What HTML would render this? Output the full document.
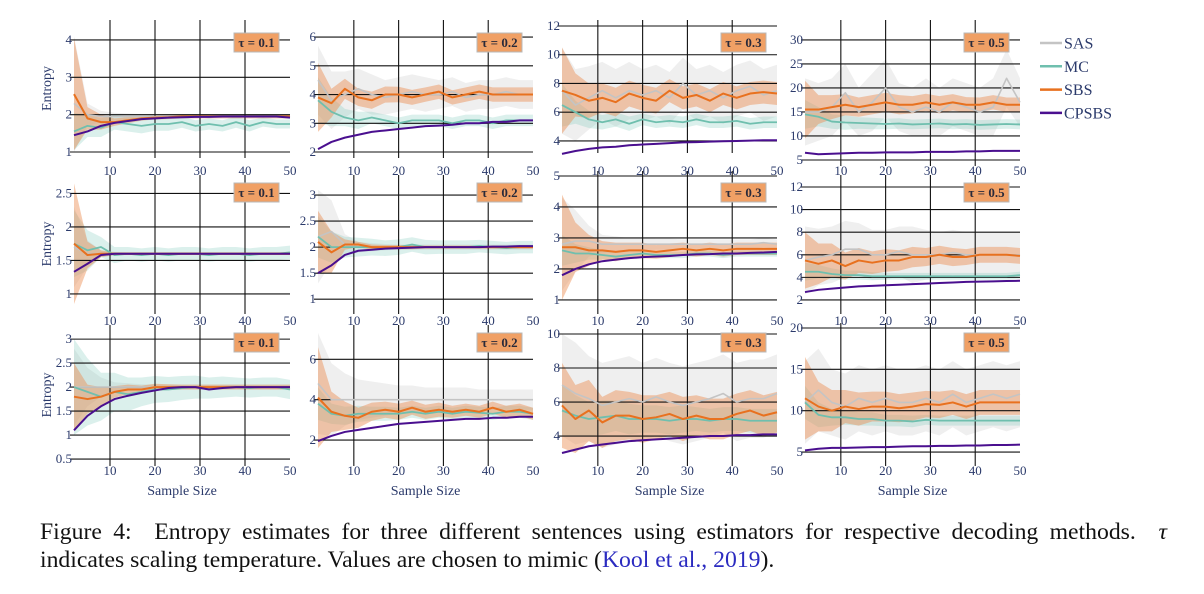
<!DOCTYPE html>
<html><head><meta charset="utf-8"><style>
body{margin:0;width:1204px;height:594px;background:#fff;overflow:hidden;font-family:"Liberation Serif",serif}
#cap{position:absolute;left:40px;top:518px;width:1127px;font-size:23.7px;color:#111;line-height:28px}
#cap .l1{text-align:justify;text-align-last:justify;white-space:normal}
#cap .l2{white-space:nowrap}
a{color:#2b2bc0;text-decoration:none}
</style></head><body>
<svg id="fig" width="1204" height="510" style="position:absolute;left:0;top:0" font-family="Liberation Serif, serif"></svg>
<div id="cap">
<div class="l1">Figure 4:&nbsp; Entropy estimates for three different sentences using estimators for respective decoding methods.&nbsp; <i>τ</i></div>
<div class="l2">indicates scaling temperature. Values are chosen to mimic (<a>Kool et al., 2019</a>).</div>
</div>
<script>
const xs=[2,5,8,11,14,17,20,23,26,29,32,35,38,41,44,47,50];
const xTicks=[10,20,30,40,50];
const taus=["0.1","0.2","0.3","0.5"];
const yTicks=[[1,2,3,4],[2,3,4,5,6],[4,6,8,10,12],[5,10,15,20,25,30],
[1,1.5,2,2.5],[1,1.5,2,2.5,3],[1,2,3,4,5],[2,4,6,8,10,12],
[0.5,1,1.5,2,2.5,3],[2,4,6],[4,6,8,10],[5,10,15,20]];
const yDomains=[[1,4.4],[2,6.42],[3.58,12.07],[5,33.1],[0.79,2.7],[0.83,3.29],[0.74,5],[1.29,12.62],[0.48,3.19],[1.01,7.45],[2.59,10],[4.04,20]];
const meanSAS=[
[2.3,2.0,1.95,1.95,1.95,1.95,1.95,1.95,1.95,1.95,1.95,1.95,1.95,1.95,1.95,1.95,1.95],
[4.5,3.8,4.0,4.2,4.0,3.9,4.0,4.1,4.0,4.0,4.1,3.9,4.0,4.0,4.1,4.0,4.0],
[7.5,6.5,7.0,7.5,7.0,7.5,7.2,7.5,7.0,8.0,7.2,7.5,7.0,7.5,7.8,7.2,7.5],
[15,15,16,19,15,17,20,16,15,16,15,17,16,15,16,22,17],
[1.7,1.6,1.6,1.6,1.6,1.6,1.6,1.6,1.6,1.6,1.6,1.6,1.6,1.6,1.6,1.6,1.6],
[2.2,2.3,2.05,2.0,2.0,2.0,2.0,2.0,2.0,2.0,2.0,2.0,2.0,2.0,2.0,2.0,2.0],
[2.8,2.9,2.9,2.8,2.8,2.8,2.8,2.8,2.8,2.8,2.8,2.8,2.8,2.8,2.8,2.85,2.8],
[5.5,5.8,6,6.5,6.5,6,6,6.3,6,6,6,6.2,6,6,6,6,6],
[2.0,2.0,2.0,2.0,2.0,2.0,2.0,2.0,2.0,2.0,2.0,2.0,2.0,2.0,2.0,2.0,2.0],
[4.8,4.0,4.0,4.0,4.0,4.0,4.0,4.0,4.0,4.0,4.0,4.0,4.0,4.0,4.0,4.0,4.0],
[7,6.5,6.2,5.8,6,6.2,6,6.3,6,5.8,6,6.2,6.5,6,6.2,6.2,6.5],
[11,12.5,11,10.5,11.5,11,11.5,11,11,11.5,11,12,11,11.5,12,11.5,12]];
const bandSAS=[
[1.8,0.3,0.15,0.1,0.08,0.06,0.05,0.05,0.05,0.05,0.05,0.05,0.05,0.05,0.05,0.05,0.05],
[1.2,1.0,0.8,0.7,0.7,0.6,0.6,0.6,0.6,0.5,0.5,0.5,0.5,0.5,0.5,0.5,0.5],
[3,2.5,2.2,2.0,2,2,1.8,1.8,1.8,1.8,1.8,1.8,1.8,1.8,1.8,1.8,1.8],
[7,6,6,6,5,6,6,5,5,6,5,5,5,5,6,6,5],
[0.6,0.2,0.05,0.03,0.02,0.02,0.02,0.02,0.02,0.02,0.02,0.02,0.02,0.02,0.02,0.02,0.02],
[0.9,0.6,0.2,0.1,0.08,0.06,0.05,0.05,0.05,0.05,0.05,0.05,0.05,0.05,0.05,0.05,0.05],
[1.5,1,0.5,0.3,0.25,0.2,0.2,0.18,0.18,0.15,0.15,0.15,0.15,0.15,0.15,0.15,0.15],
[3,2.5,2.5,2.5,2.3,2.2,2.2,2.2,2.5,2.2,2,2,2,2,2,2,2],
[0.8,0.4,0.2,0.1,0.08,0.06,0.05,0.05,0.05,0.05,0.05,0.05,0.05,0.05,0.05,0.05,0.05],
[2.5,1.8,1.3,1.0,0.9,0.8,0.7,0.7,0.6,0.6,0.6,0.6,0.5,0.5,0.5,0.5,0.5],
[3,3,2.5,2.5,2.5,2.5,2.3,2.3,2.3,2.3,2.3,2.3,2.3,2.3,2.3,2.3,2.3],
[5,5,4,4,4,4,4,4,4,4,4,4,4,4,4,4,4]];
const meanMC=[
[1.55,1.7,1.65,1.8,1.75,1.7,1.75,1.75,1.8,1.7,1.75,1.7,1.8,1.7,1.8,1.75,1.75],
[3.8,3.4,3.2,3.1,3.2,3.1,3.0,3.1,3.1,3.1,3.0,3.1,3.1,3.0,3.1,3.1,3.1],
[6.5,6.0,5.5,5.3,5.5,5.2,5.5,5.3,5.4,5.3,5.5,5.3,5.3,5.4,5.2,5.3,5.3],
[14.5,14,13,12.8,12.7,12.6,12.5,12.6,12.4,12.5,12.6,12.4,12.5,12.3,12.4,12.5,12.4],
[1.75,1.65,1.7,1.58,1.6,1.58,1.6,1.58,1.6,1.6,1.58,1.6,1.6,1.58,1.6,1.6,1.62],
[2.2,2.0,2.0,2.0,2.0,1.98,2.0,2.05,2.0,2.0,2.0,2.0,2.02,2.0,1.98,2.0,2.0],
[2.6,2.5,2.5,2.45,2.4,2.45,2.5,2.45,2.45,2.45,2.5,2.5,2.45,2.5,2.5,2.5,2.5],
[4.5,4.5,4.3,4.2,4.2,4.1,4.1,4.1,4.1,4.1,4.1,4.1,4.1,4.1,4.1,4.1,4.2],
[2.0,1.9,1.8,1.9,1.85,1.9,1.95,1.95,1.98,2.0,1.98,2.0,2.0,1.98,2.0,2.0,1.95],
[3.8,3.3,3.2,3.3,3.3,3.3,3.3,3.4,3.3,3.4,3.3,3.4,3.35,3.3,3.4,3.4,3.3],
[5.5,5.2,5.0,5.1,5.2,5.0,5.0,5.0,4.9,5.0,5.0,4.9,5.0,5.0,4.9,4.9,4.9],
[11,9.5,9.2,9.2,9.0,9.0,8.8,8.8,8.7,8.9,8.8,8.8,8.8,8.8,8.8,8.8,8.8]];
const bandMC=[
[0.5,0.3,0.25,0.2,0.2,0.2,0.18,0.18,0.15,0.15,0.15,0.15,0.15,0.15,0.12,0.12,0.12],
[0.8,0.5,0.3,0.3,0.2,0.2,0.2,0.2,0.2,0.2,0.2,0.2,0.2,0.2,0.2,0.2,0.2],
[1.5,0.8,0.6,0.5,0.5,0.5,0.4,0.4,0.4,0.4,0.4,0.4,0.4,0.4,0.4,0.4,0.4],
[3,2,1.5,1.5,1.2,1.2,1.1,1.1,1,1,1,1,1,1,1,1,1],
[0.5,0.3,0.15,0.12,0.1,0.1,0.1,0.1,0.1,0.1,0.1,0.1,0.1,0.1,0.1,0.1,0.1],
[0.4,0.3,0.2,0.18,0.16,0.15,0.15,0.14,0.14,0.13,0.13,0.13,0.12,0.12,0.12,0.12,0.12],
[0.5,0.3,0.2,0.15,0.12,0.12,0.1,0.1,0.1,0.1,0.1,0.1,0.1,0.1,0.1,0.1,0.1],
[0.8,0.6,0.5,0.4,0.4,0.35,0.3,0.3,0.3,0.3,0.3,0.3,0.3,0.3,0.3,0.3,0.3],
[1.0,0.7,0.5,0.4,0.35,0.3,0.28,0.26,0.25,0.24,0.22,0.22,0.2,0.2,0.2,0.2,0.2],
[0.8,0.5,0.45,0.4,0.35,0.35,0.3,0.3,0.3,0.3,0.3,0.3,0.3,0.3,0.3,0.3,0.3],
[1.5,1.2,1,1,0.9,0.9,0.8,0.8,0.8,0.8,0.7,0.7,0.7,0.7,0.7,0.7,0.7],
[2,1.5,1,0.9,0.8,0.8,0.7,0.7,0.7,0.6,0.6,0.6,0.6,0.6,0.6,0.6,0.6]];
const meanSBS=[
[2.55,1.9,1.8,1.8,1.85,1.9,1.92,1.93,1.95,1.95,1.95,1.95,1.95,1.95,1.95,1.95,1.95],
[3.9,3.7,4.2,3.9,3.8,4.0,4.0,3.9,4.0,4.1,3.9,4.0,4.1,4.0,4.0,4.0,4.0],
[7.5,7.2,6.8,7.0,6.7,7.3,7.0,6.8,7.5,7.0,7.2,6.8,7.3,7.0,7.3,7.4,7.3],
[15.5,15.5,16,16.5,16,16.5,17,16.5,16.5,17,16.5,17,16.5,16.5,17,16.5,16.5],
[1.75,1.58,1.6,1.6,1.6,1.6,1.6,1.6,1.6,1.6,1.6,1.6,1.6,1.6,1.6,1.6,1.6],
[2.1,1.9,2.05,2.05,2.0,2.0,2.0,2.0,2.0,2.0,2.0,2.0,2.0,2.0,2.0,2.0,2.0],
[2.7,2.7,2.6,2.6,2.55,2.6,2.6,2.55,2.6,2.65,2.6,2.65,2.6,2.65,2.65,2.65,2.65],
[5.5,5.2,5.5,5,5.5,5.3,5.5,5.5,5.8,5.8,6,5.8,5.8,6,6,6,5.9],
[1.8,1.75,1.8,1.9,1.95,1.95,2.0,2.0,2.0,2.0,2.0,2.0,2.0,2.0,2.0,2.0,2.0],
[4.1,3.4,3.2,3.1,3.4,3.5,3.4,3.6,3.4,3.5,3.4,3.5,3.4,3.6,3.4,3.5,3.3],
[5.8,5,5.5,4.8,5.2,5.2,5.0,5.1,5.3,5.0,5.2,5.0,5.0,5.3,5.5,5.2,5.4],
[11.5,10.5,10,10.5,10.2,10.5,10.5,10.3,10.5,10.8,10.7,11,10.5,11,11,11,11]];
const bandSBS=[
[1.5,0.3,0.2,0.1,0.08,0.06,0.05,0.05,0.05,0.05,0.05,0.05,0.05,0.05,0.05,0.05,0.05],
[1.2,0.5,0.35,0.3,0.3,0.28,0.27,0.26,0.25,0.25,0.25,0.25,0.25,0.25,0.25,0.25,0.25],
[3,1.5,1.2,1.0,1,0.9,0.9,0.9,0.8,0.8,0.8,0.8,0.8,0.8,0.8,0.8,0.8],
[6,3,2.5,2.2,2,2,2,2,1.8,1.8,1.8,1.7,1.6,1.5,1.5,1.5,1.5],
[0.9,0.2,0.05,0.02,0.02,0.02,0.02,0.02,0.02,0.02,0.02,0.02,0.02,0.02,0.02,0.02,0.02],
[0.6,0.4,0.1,0.05,0.05,0.04,0.04,0.04,0.03,0.03,0.03,0.03,0.03,0.03,0.03,0.03,0.03],
[1.7,0.8,0.5,0.3,0.3,0.25,0.25,0.22,0.22,0.2,0.2,0.2,0.2,0.2,0.2,0.2,0.2],
[2.5,1.8,1.5,1.2,1.1,1,1,0.9,0.9,0.8,0.8,0.8,0.7,0.7,0.7,0.7,0.7],
[0.7,0.3,0.2,0.12,0.1,0.08,0.07,0.06,0.05,0.05,0.05,0.05,0.05,0.05,0.05,0.05,0.05],
[2.5,1,0.7,0.5,0.45,0.4,0.4,0.35,0.35,0.35,0.3,0.3,0.3,0.3,0.3,0.3,0.3],
[2.5,2,1.8,1.5,1.5,1.4,1.4,1.3,1.3,1.3,1.2,1.2,1.2,1.2,1.2,1.2,1.2],
[5,3,2.5,2,2,1.8,1.8,1.7,1.7,1.6,1.6,1.5,1.5,1.5,1.5,1.5,1.5]];
const meanCP=[
[1.45,1.55,1.7,1.78,1.83,1.88,1.9,1.92,1.93,1.94,1.94,1.95,1.95,1.95,1.95,1.95,1.92],
[2.1,2.35,2.5,2.6,2.7,2.75,2.8,2.85,2.9,2.92,2.95,3.0,3.0,3.05,3.05,3.1,3.1],
[3.1,3.3,3.45,3.55,3.6,3.7,3.75,3.8,3.85,3.9,3.92,3.95,3.98,4.0,4.02,4.05,4.05],
[6.5,6.2,6.3,6.4,6.5,6.5,6.6,6.6,6.6,6.7,6.7,6.7,6.8,6.8,6.9,6.9,6.9],
[1.33,1.45,1.58,1.6,1.6,1.6,1.6,1.6,1.6,1.6,1.6,1.6,1.6,1.6,1.6,1.6,1.6],
[1.5,1.65,1.85,1.93,1.95,1.97,1.98,1.99,2.0,2.0,2.0,2.0,2.0,2.01,2.01,2.02,2.02],
[1.8,2.0,2.15,2.25,2.3,2.35,2.38,2.4,2.42,2.45,2.47,2.48,2.5,2.5,2.52,2.53,2.55],
[2.7,2.9,3.0,3.1,3.2,3.25,3.3,3.35,3.4,3.45,3.5,3.55,3.6,3.62,3.65,3.68,3.7],
[1.1,1.4,1.6,1.75,1.82,1.88,1.93,1.98,2.0,2.0,1.95,1.98,2.0,2.0,2.0,2.0,2.0],
[1.95,2.2,2.4,2.5,2.6,2.7,2.8,2.85,2.9,2.95,3.0,3.05,3.05,3.1,3.1,3.15,3.15],
[3.0,3.2,3.4,3.5,3.6,3.7,3.75,3.8,3.85,3.9,3.95,4.0,4.0,4.05,4.05,4.1,4.1],
[5.2,5.4,5.5,5.5,5.55,5.6,5.6,5.65,5.7,5.7,5.75,5.75,5.8,5.8,5.85,5.85,5.9]];

const NS="http://www.w3.org/2000/svg";
const svg=document.getElementById('fig');
function mk(tag,attrs,parent){const e=document.createElementNS(NS,tag);for(const k in attrs)e.setAttribute(k,attrs[k]);(parent||svg).appendChild(e);return e;}
const colL=[74,318,562,805],colR=[290,533,777,1020];
const rowT=[[25,25,25,25],[180,180,176,180],[330,330,334,328]];
const rowB=[[152,152,147,160],[308,308,308,308],[460,460,460,460]];
const labY=[170,320,470];
const TXT="#2b3a6b";
for(let p=0;p<12;p++){
  const r=Math.floor(p/4),c=p%4;
  const L=colL[c],R=colR[c],T=rowT[r][c],B=rowB[r][c];
  const [y0,y1]=yDomains[p];
  const sx=x=>L+(x-2)/48*(R-L);
  const sy=v=>B-(v-y0)/(y1-y0)*(B-T);
  const g=mk('g',{});
  
  
  const band=(m,b,fill,name)=>{
    let pts=xs.map((x,i)=>sx(x)+','+sy(Math.min(y1,m[i]+b[i])));
    pts=pts.concat(xs.map((x,i)=>sx(x)+','+sy(Math.max(y0,m[i]-b[i]))).reverse());
    const e=mk('polygon',{points:pts.join(' '),fill:fill},g);
    
    
  };
  band(meanSAS[p],bandSAS[p],'rgba(225,225,225,0.55)','sas-band');
  band(meanMC[p],bandMC[p],'rgba(110,195,180,0.25)','mc-band');
  band(meanSBS[p],bandSBS[p],'rgba(236,140,80,0.45)','sbs-band');
  yTicks[p].forEach(t=>{const y=sy(t);
    const gl=mk('line',{x1:L-4,x2:R,y1:y,y2:y,stroke:'#111','stroke-width':1.1},g);
    
    
    const tl=mk('text',{x:L-2,y:y+4,'text-anchor':'end','font-size':13,fill:TXT},g);
    tl.textContent=t;
    
    
  });
  xTicks.forEach(t=>{const x=sx(t);
    if(t<50){const vl=mk('line',{x1:x,x2:x,y1:T-5,y2:B+6,stroke:'#111','stroke-width':1.1},g);
    
    }
    const tl=mk('text',{x:x,y:labY[r]+5,'text-anchor':'middle','font-size':13,fill:TXT},g);
    tl.textContent=t;
    
    
  });
  const line=(m,col,w,name)=>{
    const e=mk('polyline',{points:xs.map((x,i)=>sx(x)+','+sy(m[i])).join(' '),fill:'none',stroke:col,'stroke-width':w,'stroke-linejoin':'round'},g);
    
    
  };
  line(meanSAS[p],'#c4c4c4',1.6,'sas-line');
  line(meanMC[p],'#6fbfae',1.8,'mc-line');
  line(meanSBS[p],'#e8711f',2,'sbs-line');
  line(meanCP[p],'#4a0f8f',2,'cpsbs-line');
  const by=[33,183,333][r];
  const bx=R-56;
  const rb=mk('rect',{x:bx,y:by,width:45,height:19,fill:'#f0a065',stroke:'#b8b8b8','stroke-width':1},g);
  
  
  const tt=mk('text',{x:bx+22.5,y:by+14,'text-anchor':'middle','font-size':13,'font-weight':'bold',fill:'#2a2a3a'},g);
  tt.textContent='τ = '+taus[c];
  
  
  if(c===0){
    const yl=mk('text',{transform:`translate(51,${(T+B)/2}) rotate(-90)`,'text-anchor':'middle','font-size':14,fill:TXT},g);
    yl.textContent='Entropy';
    
    
  }
  if(r===2){
    const xl=mk('text',{x:(L+R)/2,y:495,'text-anchor':'middle','font-size':14,fill:TXT},g);
    xl.textContent='Sample Size';
    
    
  }
}
const legNames=["SAS","MC","SBS","CPSBS"],legCols=['#c4c4c4','#6fbfae','#e8711f','#4a0f8f'];
legNames.forEach((n,i)=>{
  const y=43+i*23.3;
  const g=mk('g',{});
  
  
  mk('line',{x1:1040,x2:1062,y1:y,y2:y,stroke:legCols[i],'stroke-width':2.5},g);
  const t=mk('text',{x:1064,y:y+5.5,'font-size':16,fill:TXT},g);t.textContent=n;
});
</script>
</body></html>
